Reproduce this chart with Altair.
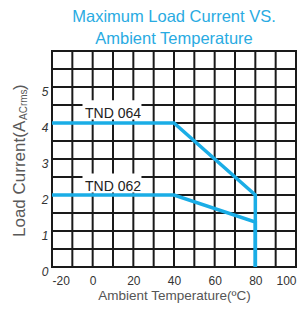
import altair as alt
import pandas as pd

# ---- data ----
tnd064_temp = [-20, 40, 80, 80]
tnd064_curr = [4, 4, 2, 0]
tnd062_temp = [-20, 40, 80, 80]
tnd062_curr = [2, 2, 1.25, 0]
series_names = ["TND 064", "TND 062"]
label_temp = [10, 10]
label_curr = [4.15, 2.12]
x_grid = list(range(-20, 101, 10))
y_grid = [i * 0.5 for i in range(13)]
x_ticks = [-20, 0, 20, 40, 60, 80, 100]
y_ticks = [0, 1, 2, 3, 4, 5]
title_lines = ["Maximum Load Current VS.", "Ambient Temperature"]
x_title = "Ambient Temperature(ºC)"
y_title_parts = ["Load Current(A", "ACrms", ")"]

BLUE = "#1AADE6"
SANS = "Liberation Sans, Arial, sans-serif"
GRID = "#1a1a1a"

rows = []
for i, (t, c) in enumerate(zip(tnd064_temp, tnd064_curr)):
    rows.append({"series": series_names[0], "order": i, "temp": t, "curr": c})
for i, (t, c) in enumerate(zip(tnd062_temp, tnd062_curr)):
    rows.append({"series": series_names[1], "order": i, "temp": t, "curr": c})
df = pd.DataFrame(rows)

lab = pd.DataFrame({"name": series_names, "temp": label_temp, "curr": label_curr})
lab["x1"] = lab["temp"] - 15
lab["x2"] = lab["temp"] + 14
lab["y1"] = lab["curr"] - 0.05
lab["y2"] = lab["curr"] + 0.48

xs = alt.Scale(domain=[-20, 100], nice=False, zero=False)
ys = alt.Scale(domain=[0, 6], nice=False, zero=False)

x_axis = alt.Axis(values=x_ticks, grid=False, ticks=False, domain=False,
                  labelExpr="'' + datum.value", labelOverlap=False,
                  labelFont=SANS, labelFontSize=12, labelColor="#333333", labelPadding=8,
                  title=x_title, titleFont=SANS, titleFontSize=13.5, titleFontWeight="normal",
                  titleColor="#555555", titlePadding=2)
y_axis = alt.Axis(values=y_ticks, grid=False, ticks=False, domain=False,
                  labelExpr="'' + datum.value", labelOverlap=False,
                  labelFont=SANS, labelFontSize=12, labelFontStyle="italic",
                  labelColor="#333333", labelPadding=4, labelOffset=4,
                  title=None)

vgrid = alt.Chart(pd.DataFrame({"g": x_grid})).mark_rule(color=GRID, strokeWidth=2).encode(
    x=alt.X("g:Q", scale=xs, axis=x_axis))
hgrid = alt.Chart(pd.DataFrame({"g": y_grid})).mark_rule(color=GRID, strokeWidth=2).encode(
    y=alt.Y("g:Q", scale=ys, axis=y_axis))

boxes = alt.Chart(lab).mark_rect(color="white").encode(
    x=alt.X("x1:Q", scale=xs, axis=x_axis), x2="x2:Q",
    y=alt.Y("y1:Q", scale=ys, axis=y_axis), y2="y2:Q",
)

lines = alt.Chart(df).mark_line(color=BLUE, strokeWidth=3.5, strokeJoin="miter").encode(
    x=alt.X("temp:Q", scale=xs, axis=x_axis),
    y=alt.Y("curr:Q", scale=ys, axis=y_axis),
    detail="series:N",
    order="order:Q",
)

texts = alt.Chart(lab).mark_text(font=SANS, fontSize=14, color="#222222",
                                 baseline="alphabetic", align="center").encode(
    x=alt.X("temp:Q", scale=xs, axis=x_axis), y=alt.Y("curr:Q", scale=ys, axis=y_axis),
    text="name:N")

yt_main = alt.Chart(pd.DataFrame({"t": [y_title_parts[0]]})).mark_text(
    font=SANS, fontSize=17, color="#595959", angle=270, align="left", baseline="middle").encode(
    x=alt.value(-32), y=alt.value(186), text="t:N")
yt_sub = alt.Chart(pd.DataFrame({"t": [y_title_parts[1]]})).mark_text(
    font=SANS, fontSize=10, color="#595959", angle=270, align="left", baseline="middle").encode(
    x=alt.value(-28), y=alt.value(69), text="t:N")
yt_close = alt.Chart(pd.DataFrame({"t": [y_title_parts[2]]})).mark_text(
    font=SANS, fontSize=17, color="#595959", angle=270, align="left", baseline="middle").encode(
    x=alt.value(-32), y=alt.value(39), text="t:N")

chart = alt.layer(vgrid, hgrid, boxes, lines, texts, yt_main, yt_sub, yt_close).properties(
    width=244, height=216,
    autosize=alt.AutoSizeParams(type="none"),
    padding={"left": 44, "top": 43, "right": 3, "bottom": 36},
    title=alt.TitleParams(text=title_lines, font=SANS, fontSize=16.5, fontWeight="normal",
                          color="#29ABE2", anchor="middle", frame="group",
                          baseline="alphabetic", offset=-10, lineHeight=22),
).configure_view(stroke=GRID, strokeWidth=2)

chart.save("out.html", embed_options={"renderer": "svg", "actions": False})
